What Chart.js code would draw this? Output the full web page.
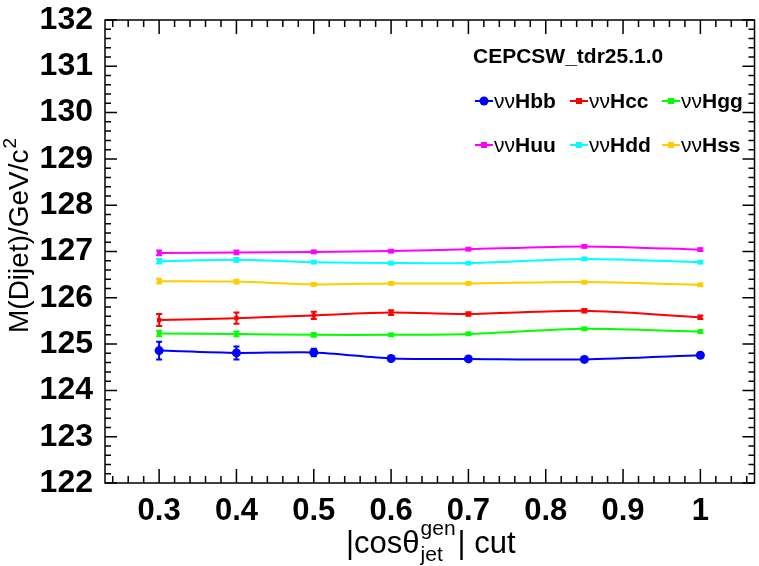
<!DOCTYPE html>
<html>
<head>
<meta charset="utf-8">
<script src="https://cdn.jsdelivr.net/npm/chart.js@4.4.0/dist/chart.umd.min.js"></script>
<style>
  html, body { margin: 0; padding: 0; background: #fff; }
</style>
</head>
<body>
<canvas id="massChart" width="759" height="566"></canvas>
<script>
// 데이터
const cutValues = [0.3, 0.4, 0.5, 0.6, 0.7, 0.85, 1.0];
const xTicks = [0.3, 0.4, 0.5, 0.6, 0.7, 0.8, 0.9, 1.0];
const yTicks = [122, 123, 124, 125, 126, 127, 128, 129, 130, 131, 132];

const hbb = [124.86, 124.81, 124.82, 124.69, 124.68, 124.67, 124.76];
const hbbErr = [0.19, 0.14, 0.08, 0.05, 0.04, 0.04, 0.05];
const hcc = [125.52, 125.56, 125.62, 125.68, 125.65, 125.72, 125.58];
const hccErr = [0.13, 0.12, 0.08, 0.05, 0.04, 0.04, 0.04];
const hgg = [125.23, 125.22, 125.20, 125.20, 125.22, 125.33, 125.27];
const hggErr = [0.06, 0.05, 0.04, 0.03, 0.03, 0.03, 0.03];
const huu = [126.97, 126.98, 126.99, 127.01, 127.05, 127.11, 127.04];
const huuErr = [0.05, 0.04, 0.03, 0.03, 0.03, 0.03, 0.03];
const hdd = [126.79, 126.82, 126.77, 126.75, 126.75, 126.84, 126.77];
const hddErr = [0.05, 0.04, 0.03, 0.03, 0.03, 0.03, 0.03];
const hss = [126.36, 126.35, 126.29, 126.31, 126.31, 126.34, 126.28];
const hssErr = [0.05, 0.04, 0.03, 0.03, 0.03, 0.03, 0.03];

const seriesLabels = ['ννHbb', 'ννHcc', 'ννHgg', 'ννHuu', 'ννHdd', 'ννHss'];
const seriesColors = ['#0000ff', '#ff0000', '#00ff00', '#ff00ff', '#00ffff', '#ffcc00'];
const seriesValues = [hbb, hcc, hgg, huu, hdd, hss];
const seriesErrors = [hbbErr, hccErr, hggErr, huuErr, hddErr, hssErr];

const FONT = '"Liberation Sans", Helvetica, Arial, sans-serif';

function makeDataset(i) {
    const isCircle = i === 0;
    return {
        label: seriesLabels[i],
        data: cutValues.map((x, k) => ({x: x, y: seriesValues[i][k]})),
        errors: seriesErrors[i],
        borderColor: seriesColors[i],
        backgroundColor: seriesColors[i],
        borderWidth: 2,
        pointStyle: isCircle ? 'circle' : 'rect',
        pointRadius: isCircle ? 4.5 : 3,
        pointBorderWidth: 0,
        tension: 0.25,
        showLine: true
    };
}

// 프레임, 눈금, 오차 막대, 범례, 축 제목
const rootStyle = {
    id: 'rootStyle',
    afterDatasetsDraw(chart) {
        const ctx = chart.ctx;
        const ys = chart.scales.y;
        ctx.save();
        chart.data.datasets.forEach((ds, i) => {
            const meta = chart.getDatasetMeta(i);
            ctx.strokeStyle = ds.borderColor;
            ctx.lineWidth = 2;
            meta.data.forEach((pt, k) => {
                const v = ds.data[k].y;
                const e = ds.errors[k];
                const top = ys.getPixelForValue(v + e);
                const bot = ys.getPixelForValue(v - e);
                ctx.beginPath();
                ctx.moveTo(pt.x, top); ctx.lineTo(pt.x, bot);
                ctx.moveTo(pt.x - 3, top); ctx.lineTo(pt.x + 3, top);
                ctx.moveTo(pt.x - 3, bot); ctx.lineTo(pt.x + 3, bot);
                ctx.stroke();
            });
        });
        ctx.restore();
    },
    afterDraw(chart) {
        const ctx = chart.ctx;
        const a = chart.chartArea;
        const xs = chart.scales.x;
        const ys = chart.scales.y;
        ctx.save();
        ctx.strokeStyle = '#000';
        ctx.lineWidth = 1.5;
        ctx.strokeRect(a.left, a.top, a.right - a.left, a.bottom - a.top);

        // x 눈금 (위/아래)
        ctx.beginPath();
        for (let m = 12; m <= 53; m++) {
            const v = m * 0.02;
            const px = xs.getPixelForValue(v);
            if (px <= a.left || px >= a.right) continue;
            const major = m % 5 === 0;
            const len = major ? 14 : 7;
            ctx.moveTo(px, a.bottom); ctx.lineTo(px, a.bottom - len);
            ctx.moveTo(px, a.top); ctx.lineTo(px, a.top + len);
        }
        // y 눈금 (왼쪽/오른쪽)
        for (let m = 0; m <= 50; m++) {
            const v = 122 + m * 0.2;
            const py = ys.getPixelForValue(v);
            const major = m % 5 === 0;
            const len = major ? 12 : 6;
            ctx.moveTo(a.left, py); ctx.lineTo(a.left + len, py);
            ctx.moveTo(a.right, py); ctx.lineTo(a.right - len, py);
        }
        ctx.stroke();

        // 범례
        ctx.fillStyle = '#000';
        ctx.textBaseline = 'alphabetic';
        ctx.font = 'bold 21px ' + FONT;
        ctx.fillText('CEPCSW_tdr25.1.0', 473, 63);
        const colX = [475, 570, 662];
        const rowY = [101, 145];
        chart.data.datasets.forEach((ds, i) => {
            const x0 = colX[i % 3];
            const y0 = rowY[Math.floor(i / 3)];
            ctx.strokeStyle = ds.borderColor;
            ctx.fillStyle = ds.borderColor;
            ctx.lineWidth = 2;
            ctx.beginPath();
            ctx.moveTo(x0, y0); ctx.lineTo(x0 + 18, y0);
            ctx.stroke();
            if (ds.pointStyle === 'circle') {
                ctx.beginPath(); ctx.arc(x0 + 9, y0, 4.5, 0, Math.PI * 2); ctx.fill();
            } else {
                ctx.fillRect(x0 + 6, y0 - 3, 6, 6);
            }
            ctx.fillStyle = '#000';
            ctx.font = '21px ' + FONT;
            const greek = ds.label.slice(0, 2);
            ctx.fillText(greek, x0 + 19, y0 + 7);
            const gw = ctx.measureText(greek).width;
            ctx.font = 'bold 21px ' + FONT;
            ctx.fillText(ds.label.slice(2), x0 + 19 + gw, y0 + 7);
        });

        // x 축 제목
        ctx.fillStyle = '#000';
        let tx = 346;
        const base = 553;
        ctx.font = '31px ' + FONT;
        ctx.fillText('|cosθ', tx, base);
        tx += ctx.measureText('|cosθ').width + 1;
        ctx.font = '21px ' + FONT;
        ctx.fillText('gen', tx, base - 18);
        const sw = Math.max(ctx.measureText('gen').width, ctx.measureText('jet').width);
        ctx.fillText('jet', tx, base + 8);
        tx += sw + 2;
        ctx.font = '31px ' + FONT;
        ctx.fillText('| cut', tx, base);

        // y 축 제목
        ctx.save();
        ctx.translate(28, 333);
        ctx.rotate(-Math.PI / 2);
        ctx.font = '28px ' + FONT;
        ctx.fillText('M(Dijet)/GeV/c', 0, 0);
        const mw = ctx.measureText('M(Dijet)/GeV/c').width;
        ctx.font = '19px ' + FONT;
        ctx.fillText('2', mw + 1, -12);
        ctx.restore();

        ctx.restore();
    }
};

document.addEventListener('DOMContentLoaded', function() {
    const ctx = document.getElementById('massChart');
    new Chart(ctx.getContext('2d'), {
        type: 'scatter',
        data: {
            datasets: seriesLabels.map((_, i) => makeDataset(i))
        },
        options: {
            responsive: false,
            animation: false,
            layout: {
                padding: {top: 20, right: 3, left: 0, bottom: 0}
            },
            scales: {
                x: {
                    type: 'linear',
                    min: 0.23,
                    max: 1.07,
                    grid: {display: false},
                    border: {display: false},
                    afterBuildTicks: function(scale) {
                        scale.ticks = xTicks.map(v => ({value: v}));
                    },
                    afterFit: function(scale) {
                        scale.height = 83;
                        scale.paddingLeft = 0;
                        scale.paddingRight = 0;
                    },
                    ticks: {
                        color: '#000',
                        padding: 2,
                        maxRotation: 0,
                        autoSkip: false,
                        font: {family: FONT, size: 31, weight: 'bold'},
                        callback: function(v) {
                            return Number(v.toFixed(2)).toString();
                        }
                    }
                },
                y: {
                    min: 122,
                    max: 132,
                    grid: {display: false},
                    border: {display: false},
                    afterBuildTicks: function(scale) {
                        scale.ticks = yTicks.map(v => ({value: v}));
                    },
                    afterFit: function(scale) {
                        scale.width = 105;
                        scale.paddingTop = 0;
                        scale.paddingBottom = 0;
                    },
                    ticks: {
                        color: '#000',
                        padding: 4,
                        autoSkip: false,
                        font: {family: FONT, size: 32, weight: 'bold'}
                    }
                }
            },
            plugins: {
                legend: {display: false},
                tooltip: {enabled: false}
            }
        },
        plugins: [rootStyle]
    });
});
</script>
</body>
</html>
